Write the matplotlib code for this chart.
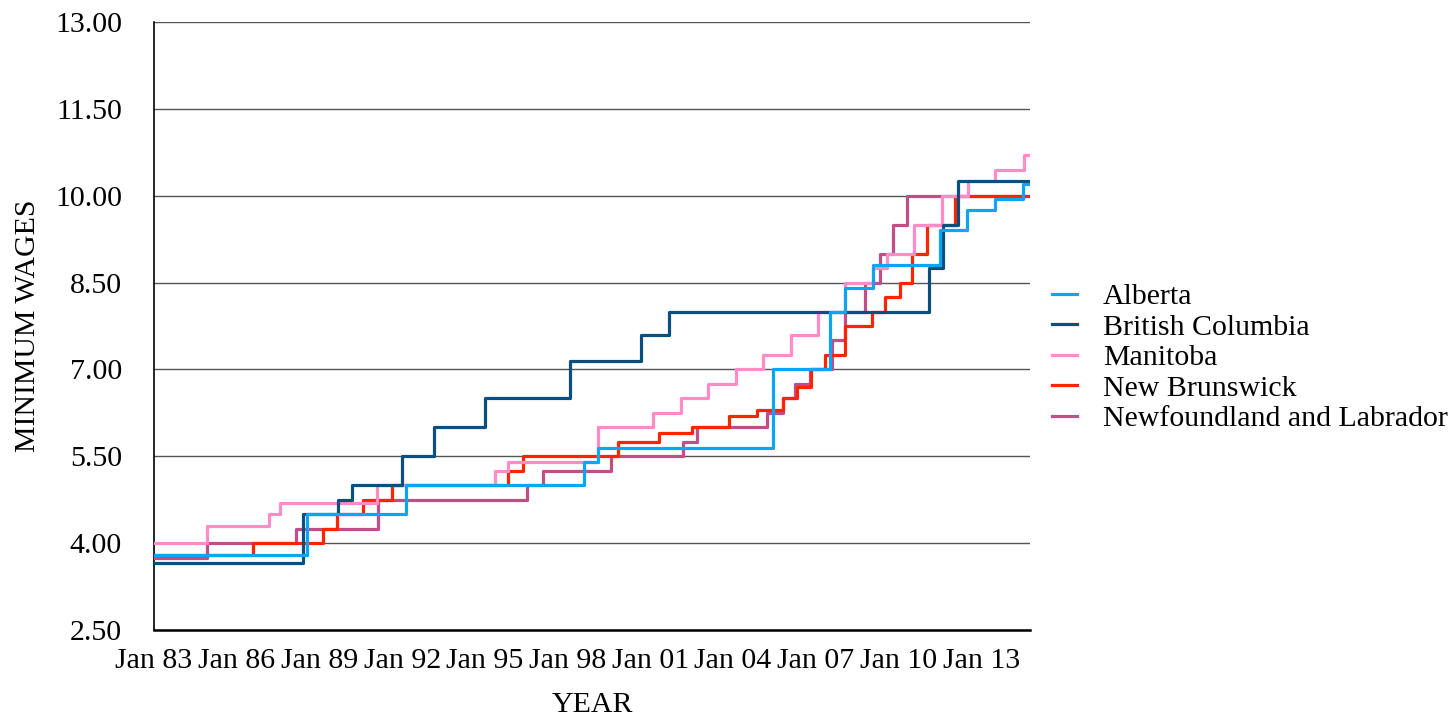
import matplotlib
matplotlib.use('Agg')
import matplotlib.pyplot as plt
import numpy as np

plt.rcParams['font.family'] = ['Liberation Serif', 'DejaVu Serif']

# step change dates (decimal years) and minimum wage in effect from that date
START = 1983.0
END = 2014.77

alberta_dates = [START, 1988.55, 1992.14, 1998.60, 1999.10, 2005.45, 2007.52,
                 2008.06, 2009.08, 2011.51, 2012.49, 2013.50, 2014.52]
alberta_wages = [3.80, 4.50, 5.00, 5.40, 5.65, 7.00, 8.00,
                 8.40, 8.80, 9.40, 9.75, 9.95, 10.20]

bc_dates = [START, 1988.40, 1989.67, 1990.18, 1992.00, 1993.16, 1995.01,
            1998.09, 2000.66, 2001.68, 2011.11, 2011.62, 2012.16]
bc_wages = [3.65, 4.50, 4.75, 5.00, 5.50, 6.00, 6.50,
            7.15, 7.60, 8.00, 8.75, 9.50, 10.25]

manitoba_dates = [START, 1984.92, 1987.17, 1987.57, 1991.09, 1995.37, 1995.84,
                  1999.10, 2001.10, 2002.11, 2003.09, 2004.11, 2005.09, 2006.10,
                  2007.08, 2008.06, 2009.08, 2009.59, 2010.57, 2011.58, 2012.52,
                  2013.50, 2014.56]
manitoba_wages = [4.00, 4.30, 4.50, 4.70, 5.00, 5.25, 5.40,
                  6.00, 6.25, 6.50, 6.75, 7.00, 7.25, 7.60,
                  8.00, 8.50, 8.75, 9.00, 9.50, 10.00, 10.25,
                  10.45, 10.70]

nb_dates = [START, 1986.59, 1989.13, 1989.64, 1990.58, 1991.63, 1995.84,
            1996.38, 1999.83, 2001.32, 2002.51, 2003.86, 2004.87, 2005.81,
            2006.32, 2006.83, 2007.34, 2008.06, 2009.04, 2009.51, 2010.06,
            2010.49, 2011.04, 2012.05]
nb_wages = [3.80, 4.00, 4.25, 4.50, 4.75, 5.00, 5.25,
            5.50, 5.75, 5.90, 6.00, 6.20, 6.30, 6.50,
            6.70, 7.00, 7.25, 7.75, 8.00, 8.25, 8.50,
            9.00, 9.50, 10.00]

nl_dates = [START, 1984.92, 1988.15, 1991.12, 1996.53, 1997.11, 1999.58,
            2002.19, 2002.70, 2005.23, 2005.81, 2006.25, 2006.79, 2007.59,
            2008.06, 2008.79, 2009.33, 2009.80, 2010.31]
nl_wages = [3.75, 4.00, 4.25, 4.75, 5.00, 5.25, 5.50,
            5.75, 6.00, 6.25, 6.50, 6.75, 7.00, 7.50,
            8.00, 8.50, 9.00, 9.50, 10.00]

tick_years = [1983, 1986, 1989, 1992, 1995, 1998, 2001, 2004, 2007, 2010, 2013]
tick_labels = ['Jan 83', 'Jan 86', 'Jan 89', 'Jan 92', 'Jan 95', 'Jan 98',
               'Jan 01', 'Jan 04', 'Jan 07', 'Jan 10', 'Jan 13']
y_ticks = [2.5, 4.0, 5.5, 7.0, 8.5, 10.0, 11.5, 13.0]

series = [
    ('Alberta', alberta_dates, alberta_wages, '#0AA6F2'),
    ('British Columbia', bc_dates, bc_wages, '#0B4F7E'),
    ('Manitoba', manitoba_dates, manitoba_wages, '#FF8CC6'),
    ('New Brunswick', nb_dates, nb_wages, '#FF2400'),
    ('Newfoundland and Labrador', nl_dates, nl_wages, '#C24E88'),
]

FS = 21.5

fig = plt.figure(figsize=(14.52, 7.21), dpi=100)
ax = fig.add_axes([154 / 1452, 1 - 630 / 721, 876 / 1452, 608 / 721])

handles = {}
# draw in reverse so Alberta sits on top
for name, d, w, c in reversed(series):
    x = list(d) + [END]
    y = list(w) + [w[-1]]
    ln, = ax.step(x, y, where='post', color=c, lw=2.3, zorder=3)
    handles[name] = ln

ax.set_xlim(START, END)
ax.set_ylim(2.5, 13.0)
ax.set_yticks(y_ticks)
ax.set_yticklabels(['%.2f' % v for v in y_ticks])
ax.set_xticks(tick_years)
ax.set_xticklabels(tick_labels)
ax.tick_params(axis='both', length=0, labelsize=FS)
ax.tick_params(axis='y', pad=23)
ax.tick_params(axis='x', pad=13)
ax.yaxis.grid(True, color='#555555', lw=1.0)
ax.set_axisbelow(True)

for s in ['top', 'right']:
    ax.spines[s].set_visible(False)
ax.spines['left'].set_linewidth(1.2)
ax.spines['bottom'].set_linewidth(1.8)

ax.set_xlabel('YEAR', fontsize=FS, labelpad=13)
ax.set_ylabel('MINIMUM WAGES', fontsize=FS, labelpad=10)

names = [s[0] for s in series]
ax.legend([handles[n] for n in names], names, loc='center left',
          bbox_to_anchor=(1.025, 0.448), frameon=False, fontsize=FS,
          handlelength=0.85, handletextpad=0.85, labelspacing=0.12,
          borderpad=0, borderaxespad=0)

fig.savefig('out.png', dpi=100)
